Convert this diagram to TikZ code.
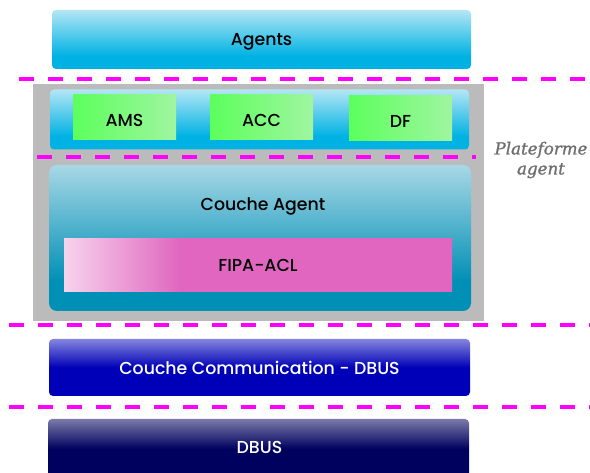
\documentclass[tikz,border=0pt]{standalone}
\usepackage{fontspec}
\setmainfont{Poppins}[BoldFont={Poppins Medium}]
\newfontfamily\platfont{DejaVu Serif}[FakeBold=1.2]
\usepackage{xcolor}
\usepackage{tikz}
\usetikzlibrary{positioning}
\newlength\px
\setlength\px{0.75pt}
\definecolor{agentslight}{HTML}{B3E6F5}
\definecolor{agentsdark}{HTML}{00B2E3}
\definecolor{coucheslight}{HTML}{A8D8E6}
\definecolor{couchesdark}{HTML}{008FB5}
\definecolor{commlight}{HTML}{8585DE}
\definecolor{commdark}{HTML}{0000B8}
\definecolor{dbuslight}{HTML}{7A7AAA}
\definecolor{dbusdark}{HTML}{00005E}
\definecolor{fipalight}{HTML}{F7D3EC}
\definecolor{fipapink}{HTML}{E066BF}
\definecolor{servbright}{HTML}{5CFF5C}
\definecolor{servpale}{HTML}{A0F5A0}
\definecolor{platgray}{HTML}{BBBBBB}
\definecolor{platlabel}{HTML}{6E6E6E}
\definecolor{sepmagenta}{HTML}{FF00FF}
\pgfdeclareverticalshading{agentsfade}{100bp}{color(0bp)=(agentsdark); color(36bp)=(agentsdark); color(75bp)=(agentslight); color(100bp)=(agentslight)}
\pgfdeclareverticalshading{couchefade}{100bp}{color(0bp)=(couchesdark); color(35bp)=(couchesdark); color(75bp)=(coucheslight); color(100bp)=(coucheslight)}
\pgfdeclareverticalshading{commfade}{100bp}{color(0bp)=(commdark); color(50bp)=(commdark); color(75bp)=(commlight); color(100bp)=(commlight)}
\pgfdeclareverticalshading{dbusfade}{100bp}{color(0bp)=(dbusdark); color(50bp)=(dbusdark); color(75bp)=(dbuslight); color(100bp)=(dbuslight)}
\pgfdeclarehorizontalshading{fipafade}{100bp}{color(0bp)=(fipalight); color(25bp)=(fipalight); color(40bp)=(fipapink); color(100bp)=(fipapink)}

\begin{document}
\begin{tikzpicture}[x=0.75pt, y=-0.75pt,
    every node/.style={font=\bfseries\fontsize{13}{15}\selectfont},
    layer/.style={rounded corners=4\px, inner sep=0pt},
    service/.style={left color=servbright, right color=servpale, inner sep=0pt,
      text height=14pt, text depth=0pt, minimum width=103\px, minimum height=45\px},
    sepline/.style={sepmagenta, line width=4.5\px, dash pattern=on 15\px off 14\px}]
  \useasboundingbox (0,0) rectangle (590,473);
  % --- agents ------------------------------------------------------
  \node[layer, shading=agentsfade, text depth=0pt, minimum width=419\px, minimum height=59\px] (agents) at (261.5,39.5) {Agents};
  \draw[sepline] (19,79) -- (590,79);
  % --- plateforme agent -------------------------------------------
  \fill[platgray] (33,84) rectangle (484,321);
  \node[layer, shading=agentsfade, minimum width=419\px, minimum height=60\px] (services) at (259.5,119.5) {};
  \node[service] (ams) at (124.5,117.5) {AMS};
  \node[service] (acc) at (261.5,117.5) {ACC};
  \node[service] (df) at (400.5,118) {DF};
  \draw[sepline] (37,157) -- (476,157);
  \node[layer, rounded corners=8\px, shading=couchefade, minimum width=422\px, minimum height=146\px] (couche) at (260,238) {};
  \node (couchelabel) at (263,206) {Couche Agent};
  \node[shading=fipafade, inner sep=0pt, minimum width=388\px, minimum height=53\px] (fipa) at (258,265.5) {FIPA-ACL};
  \node[platlabel, font=\platfont\itshape\fontsize{12.5}{15}\selectfont, align=center] (plat) at (541,160) {Plateforme\\agent};
  \draw[sepline] (9,325) -- (590,325);
  % --- communication ----------------------------------------------
  \node[layer, shading=commfade, text=white, minimum width=421\px, minimum height=57\px] (comm) at (259.5,367.5) {Couche Communication - DBUS};
  \draw[sepline] (9,407) -- (590,407);
  \node[layer, shading=dbusfade, text=white, minimum width=421\px, minimum height=60\px] (dbus) at (258.5,449) {};
  \node[text=white] (dbuslabel) at (259.5,447.5) {DBUS};
\end{tikzpicture}
\end{document}
